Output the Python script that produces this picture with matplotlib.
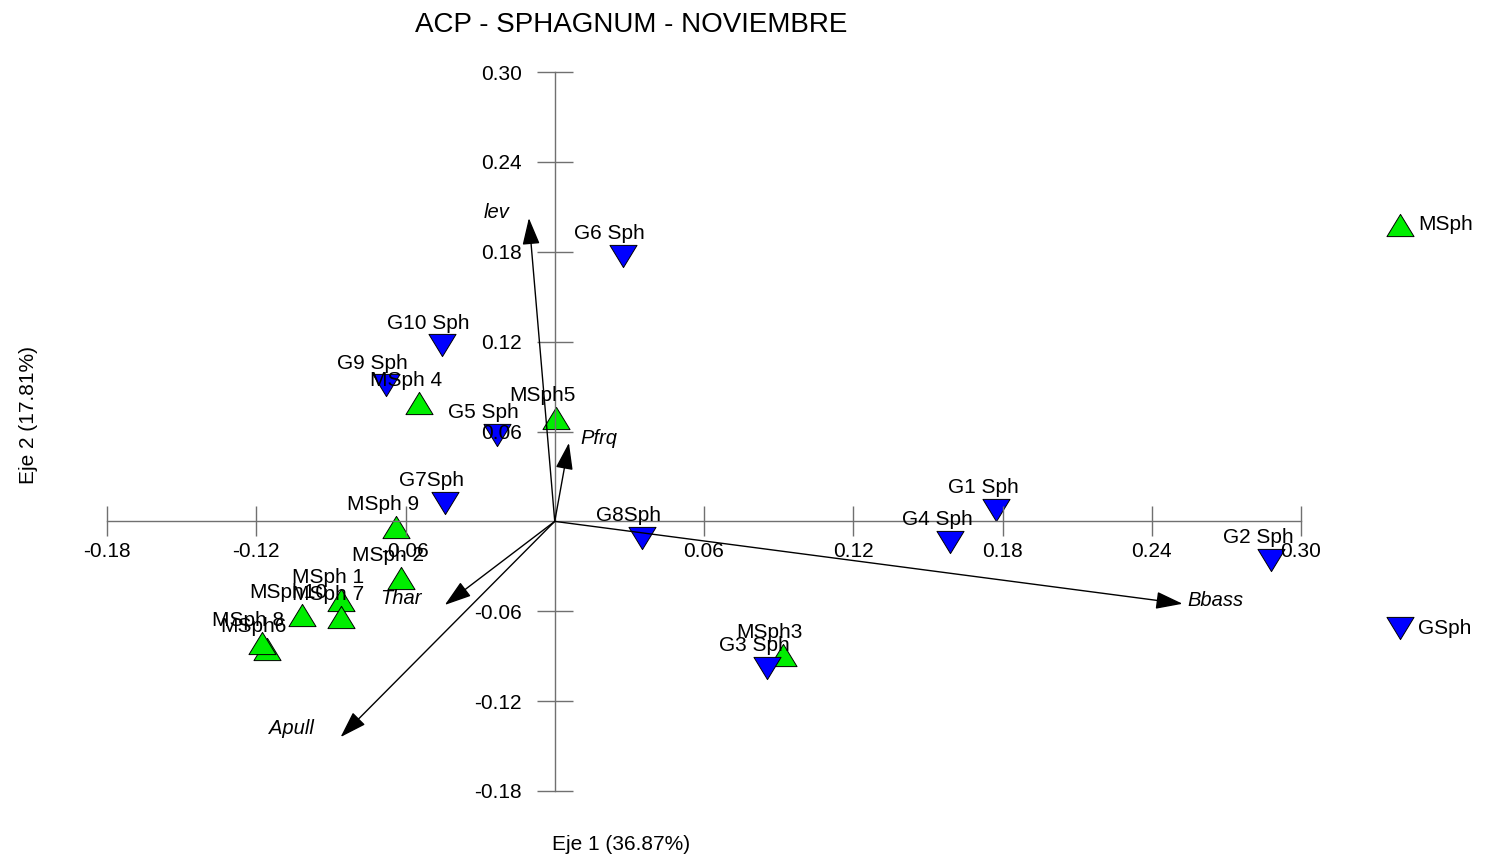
import matplotlib
matplotlib.use('Agg')
import matplotlib.pyplot as plt
from matplotlib.path import Path
from matplotlib.lines import Line2D
from matplotlib.ticker import FormatStrFormatter

plt.rcParams['font.family'] = ['Liberation Sans', 'DejaVu Sans']
plt.rcParams['axes.unicode_minus'] = False

# ---- data ----
g_labels = ['G1 Sph', 'G2 Sph', 'G3 Sph', 'G4 Sph', 'G5 Sph', 'G6 Sph', 'G7Sph', 'G8Sph', 'G9 Sph', 'G10 Sph']
g_x = [0.1775, 0.2881, 0.0854, 0.1590, -0.0232, 0.0274, -0.0442, 0.0349, -0.0679, -0.0454]
g_y = [0.0076, -0.0257, -0.0978, -0.0137, 0.0577, 0.1772, 0.0123, -0.0110, 0.0910, 0.1177]

m_labels = ['MSph 1', 'MSph 2', 'MSph3', 'MSph 4', 'MSph5', 'MSph6', 'MSph 7', 'MSph 8', 'MSph 9', 'MSph10']
m_x = [-0.0860, -0.0618, 0.0917, -0.0546, 0.0005, -0.1158, -0.0860, -0.1178, -0.0639, -0.1017]
m_y = [-0.0524, -0.0377, -0.0891, 0.0791, 0.0691, -0.0852, -0.0638, -0.0811, -0.0037, -0.0624]

var_labels = ['lev', 'Pfrq', 'Bbass', 'Thar', 'Apull']
var_x = [-0.0104, 0.0057, 0.2524, -0.0442, -0.0861]
var_y = [0.2025, 0.0524, -0.0550, -0.0558, -0.1440]

ticks = [-0.18, -0.12, -0.06, 0.06, 0.12, 0.18, 0.24, 0.30]

title = 'ACP - SPHAGNUM - NOVIEMBRE'
xlabel = 'Eje 1 (36.87%)'
ylabel = 'Eje 2 (17.81%)'
legend_names = ['MSph', 'GSph']

# ---- style ----
W, H = 1487, 860
fig = plt.figure(figsize=(W / 100, H / 100), dpi=100)
ax = fig.add_axes([107 / W, (H - 791) / H, (1301 - 107) / W, (791 - 72) / H])
ax.set_xlim(-0.18, 0.30)
ax.set_ylim(-0.18, 0.30)
ax.set_facecolor('none')

axcol = '#707070'
for s in ['top', 'right']:
    ax.spines[s].set_visible(False)
ax.spines['left'].set_position(('data', 0))
ax.spines['bottom'].set_position(('data', 0))
for s in ['left', 'bottom']:
    ax.spines[s].set_color(axcol)
    ax.spines[s].set_linewidth(1.0)
ax.set_axisbelow(False)

ax.set_xticks(ticks)
ax.set_yticks(ticks)
ax.xaxis.set_major_formatter(FormatStrFormatter('%.2f'))
ax.yaxis.set_major_formatter(FormatStrFormatter('%.2f'))
ax.tick_params(axis='x', direction='inout', length=21, width=1, color=axcol, pad=4.5, labelsize=15)
ax.tick_params(axis='y', direction='inout', length=26.6, width=1, color=axcol, pad=10.5, labelsize=15)

up = Path([(0, 0.82), (-1, -0.82), (1, -0.82), (0, 0.82)], [1, 2, 2, 79])
down = Path([(0, -0.82), (-1, 0.82), (1, 0.82), (0, -0.82)], [1, 2, 2, 79])
green = '#00ee00'
blue = '#0000ff'
ms = 19.5

ax.plot(m_x, m_y, linestyle='none', marker=up, markersize=ms, markerfacecolor=green,
        markeredgecolor='black', markeredgewidth=0.7, clip_on=False, zorder=2)
ax.plot(g_x, g_y, linestyle='none', marker=down, markersize=ms, markerfacecolor=blue,
        markeredgecolor='black', markeredgewidth=0.7, clip_on=False, zorder=2)

for lab, x, y in zip(m_labels + g_labels, m_x + g_x, m_y + g_y):
    ax.annotate(lab, (x, y), xytext=(-9.5, 9), textcoords='offset points',
                ha='center', va='bottom', fontsize=15, annotation_clip=False, zorder=4)

# variable arrows
var_off = [(-23, 4.3), (21.6, 2.9), (23.8, 2.2), (-31.7, 5), (-35.3, 6.5)]
for lab, x, y, off in zip(var_labels, var_x, var_y, var_off):
    ax.annotate('', xy=(x, y), xytext=(0, 0),
                arrowprops=dict(arrowstyle='-|>,head_length=0.83,head_width=0.27',
                                color='black', lw=1.0, mutation_scale=20,
                                shrinkA=0, shrinkB=0),
                annotation_clip=False, zorder=3)
    ax.annotate(lab, (x, y), xytext=off, textcoords='offset points', ha='center',
                va='center', fontsize=14.5, style='italic', annotation_clip=False, zorder=4)

# titles
fig.text(631 / W, 1 - 25 / H, title, ha='center', va='center', fontsize=20)
fig.text(621 / W, 1 - 845 / H, xlabel, ha='center', va='center', fontsize=15)
fig.text(29 / W, 1 - 415 / H, ylabel, ha='center', va='center', fontsize=15, rotation=90)

# legend
for (yy, mk, col), name in zip([(225, up, green), (628, down, blue)], legend_names):
    fig.add_artist(Line2D([1400 / W], [1 - yy / H], transform=fig.transFigure, linestyle='none',
                          marker=mk, markersize=ms, markerfacecolor=col,
                          markeredgecolor='black', markeredgewidth=0.7))
    fig.text(1418 / W, 1 - yy / H, name, ha='left', va='center', fontsize=15)

fig.savefig('out.png', dpi=100)
